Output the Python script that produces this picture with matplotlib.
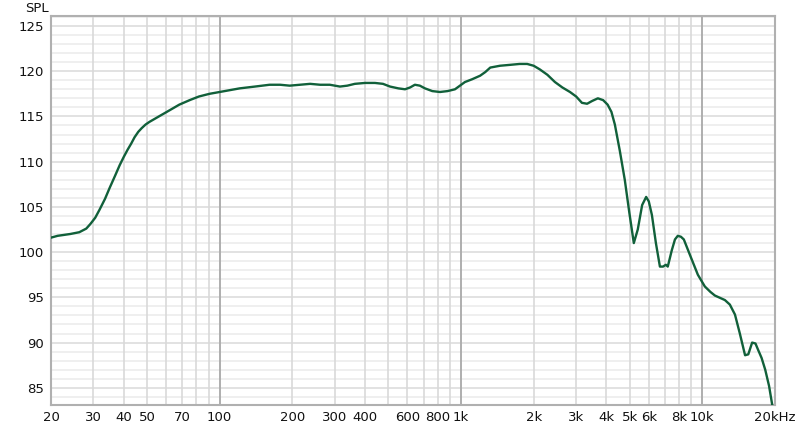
import matplotlib.pyplot as plt
from matplotlib.ticker import FixedLocator, NullFormatter

# Frequency response (Hz, dB SPL)
freq = [20, 21.3, 24, 26.2, 28, 29.1, 30.5, 31.8, 33.5, 35.0, 36.8, 38.5, 40, 41.5,
        43, 44.4, 46, 47.5, 49.3, 51.2, 56, 62.2, 68, 75.1, 82, 90.8, 100, 110, 121,
        140, 161, 178, 195, 215, 237, 261, 286, 315, 338, 363, 400, 440, 475, 508,
        550, 586, 615, 644, 675, 709, 760, 818, 880, 944, 1038, 1110, 1200, 1260,
        1322, 1450, 1596, 1750, 1880, 2000, 2120, 2280, 2450, 2630, 2828, 3000, 3170,
        3330, 3490, 3690, 3880, 4050, 4200, 4340, 4550, 4770, 4980, 5200, 5400, 5630,
        5850, 6000, 6180, 6420, 6670, 6870, 7060, 7190, 7470, 7700, 7910, 8150, 8380,
        8880, 9580, 10240, 10800, 11270, 12400, 13000, 13650, 14300, 15030, 15500,
        16080, 16600, 17020, 17600, 18220, 18900, 19480]
spl = [101.6, 101.8, 102.0, 102.2, 102.6, 103.1, 103.8, 104.7, 105.9, 107.1, 108.4,
       109.6, 110.5, 111.3, 112.0, 112.7, 113.3, 113.7, 114.1, 114.4, 115.0, 115.7,
       116.3, 116.8, 117.2, 117.5, 117.7, 117.9, 118.1, 118.3, 118.5, 118.5, 118.4,
       118.5, 118.6, 118.5, 118.5, 118.3, 118.4, 118.6, 118.7, 118.7, 118.6, 118.3,
       118.1, 118.0, 118.2, 118.5, 118.4, 118.1, 117.8, 117.7, 117.8, 118.0, 118.8,
       119.1, 119.5, 119.9, 120.4, 120.6, 120.7, 120.8, 120.8, 120.6, 120.2, 119.6,
       118.8, 118.2, 117.7, 117.2, 116.5, 116.4, 116.7, 117.0, 116.8, 116.3, 115.5,
       114.1, 111.2, 108.0, 104.4, 101.0, 102.5, 105.2, 106.1, 105.6, 104.1, 101.0,
       98.4, 98.4, 98.6, 98.4, 100.2, 101.4, 101.8, 101.7, 101.4, 99.7, 97.5, 96.2,
       95.6, 95.2, 94.7, 94.2, 93.1, 91.0, 88.6, 88.7, 90.0, 89.9, 89.2, 88.3, 87.0,
       85.2, 83.1]

xticks = [20, 30, 40, 50, 70, 100, 200, 300, 400, 600, 800, 1000, 2000, 3000,
          4000, 5000, 6000, 8000, 10000, 20000]
xlabels = ["20", "30", "40", "50", "70", "100", "200", "300", "400", "600", "800",
           "1k", "2k", "3k", "4k", "5k", "6k", "8k", "10k", "20kHz"]
yticks = [85, 90, 95, 100, 105, 110, 115, 120, 125]

fig = plt.figure(figsize=(8, 4.28), dpi=100)
ax = fig.add_axes([51 / 800, 1 - 405 / 428, 724 / 800, 389 / 428])
ax.set_xscale("log")
ax.set_xlim(20, 20000)
ax.set_ylim(83.1, 126.1)

# grid lines
minor_x = [m * 10 ** e for e in (1, 2, 3) for m in range(2, 10)]
for x in minor_x:
    if 20 < x < 20000:
        ax.axvline(x, color="#d9d9d9", lw=1.2, zorder=1)
for x in (100, 1000, 10000):
    ax.axvline(x, color="#aeaeae", lw=1.4, zorder=1)
for y in range(84, 127):
    c = "#dddddd" if y % 5 == 0 else "#ececec"
    ax.axhline(y, color=c, lw=1.2, zorder=0)

ax.plot(freq, spl, color="#11603a", lw=1.7, zorder=3)

ax.xaxis.set_major_locator(FixedLocator(xticks))
ax.set_xticklabels(xlabels)
ax.xaxis.set_minor_formatter(NullFormatter())
ax.xaxis.set_minor_locator(FixedLocator([]))
ax.set_yticks(yticks)
ax.tick_params(length=0, labelsize=9.5, colors="#111111", pad=4)
ax.tick_params(axis="y", pad=5)

for s in ax.spines.values():
    s.set_color("#b0b0b0")
    s.set_linewidth(1.5)

fig.text(37 / 800, 1 - 8 / 428, "SPL", ha="center", va="center", fontsize=9.5,
         color="#111111")

fig.savefig("out.png", dpi=100)
